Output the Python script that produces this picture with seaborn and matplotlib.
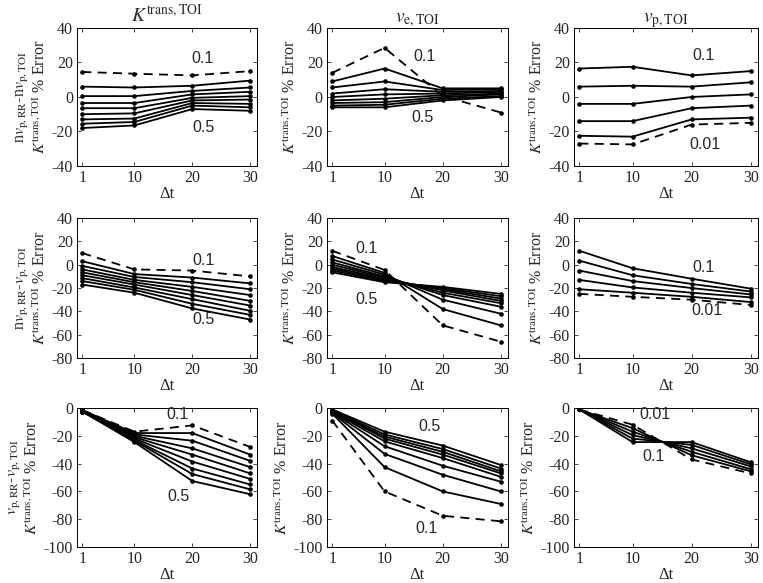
import numpy as np
import pandas as pd
import seaborn as sns
import matplotlib.pyplot as plt

dt = [1, 10, 20, 30]

# row 1: nv_p,RR - nv_p,TOI
r1_ktrans_dash = [14.5, 13.5, 12.5, 15]
r1_ktrans = [[6, 5.5, 6.5, 9.5], [0.5, 0.5, 3.5, 5.5], [-3.5, -3.5, 1.5, 3],
             [-6.5, -6.5, -0.5, 0.5], [-10, -9.5, -2, -1.5], [-13, -12.5, -3.5, -4],
             [-15.5, -14.5, -5, -6], [-18, -16.5, -7, -8]]
r1_ve_dash = [14, 28.5, 0.5, -9]
r1_ve = [[9, 16.5, 5, 5], [5.5, 9, 4, 4.5], [2, 4.5, 3, 3.5], [0, 1.5, 2, 3],
         [-2, -1, 1, 2], [-3.5, -3, 0, 1.5], [-5, -4.5, -1, 0.5], [-6, -6, -2, 0]]
r1_vp_dash = [-27, -27.5, -16, -15]
r1_vp = [[16.5, 17.5, 12.5, 15], [6, 6.5, 6, 8.5], [-4, -4, 0, 1.5],
         [-14, -14, -6.5, -5], [-22.5, -23, -13, -12]]

# row 2: nv_p,RR - v_p,TOI
r2_ktrans_dash = [10, -4, -5, -10]
r2_ktrans = [[3, -8, -11, -16], [-1, -10.5, -15, -21], [-4, -13, -19, -26],
             [-6.5, -15, -22.5, -31], [-9, -17, -26, -35], [-11.5, -19.5, -29.5, -39.5],
             [-14, -21.5, -33.5, -43], [-17, -24, -37.5, -47]]
r2_ve_dash = [12, -4.5, -52, -66]
r2_ve = [[7.5, -7, -38, -52], [4.5, -8.5, -30, -42], [2, -10, -26, -36],
         [0, -11, -24, -33], [-2, -12, -22, -31], [-3.5, -13, -21, -29],
         [-5, -14, -20, -27], [-6.5, -15, -19, -25]]
r2_vp_dash = [-25, -27.5, -30, -34.5]
r2_vp = [[12, -3, -12, -20.5], [3.5, -9, -16.5, -23], [-5, -14, -20, -25.5],
         [-13, -19.5, -24, -28], [-21, -24, -27.5, -32]]

# row 3: v_p,RR - v_p,TOI
r3_ktrans_dash = [-1.5, -17, -12.5, -28]
r3_ktrans = [[-1.5, -18, -18, -33.5], [-1.5, -19, -23.5, -38], [-2, -20, -29, -42.5],
             [-2, -21, -33.5, -47], [-2, -22, -38.5, -51], [-2.5, -23, -43.5, -55],
             [-2.5, -23.5, -47.5, -58.5], [-2.5, -24.5, -52.5, -62]]
r3_ve_dash = [-9, -60, -77.5, -81.5]
r3_ve = [[-4, -42.5, -60, -69], [-3.5, -33, -48, -60], [-3, -27.5, -41.5, -53],
         [-2.5, -24, -36, -49.5], [-2, -22, -33.5, -47], [-2, -20.5, -31.5, -45.5],
         [-1.5, -19, -29.5, -43.5], [-1, -17, -27, -41]]
r3_vp_dash = [-1, -12, -37, -47]
r3_vp = [[-1, -14.5, -34, -45.5], [-1, -17, -31.5, -44], [-1, -19.5, -29, -42],
         [-1, -22, -26.5, -40.5], [-1, -24.5, -24.5, -39]]

col_titles = [r'$K^{\mathrm{trans,TOI}}$', r'$v_{\mathrm{e,TOI}}$', r'$v_{\mathrm{p,TOI}}$']
row_labels = [r'n$v_{\mathrm{p,RR}}$-n$v_{\mathrm{p,TOI}}$',
              r'n$v_{\mathrm{p,RR}}$-$v_{\mathrm{p,TOI}}$',
              r'$v_{\mathrm{p,RR}}$-$v_{\mathrm{p,TOI}}$']
err_label = r'$K^{\mathrm{trans,TOI}}$ % Error'
row_yticks = [[-40, -20, 0, 20, 40], [-80, -60, -40, -20, 0, 20, 40],
              [-100, -80, -60, -40, -20, 0]]

# annotations (x, y, text) per panel
notes = [
    [[(21.8, 22.5, '0.1'), (21.9, -17.5, '0.5')],
     [(16.9, 23.5, '0.1'), (16.6, -12, '0.5')],
     [(22, 24, '0.1'), (22.2, -27.5, '0.01')]],
    [[(21.9, 3.5, '0.1'), (21.9, -47, '0.5')],
     [(6.9, 14, '0.1'), (6.9, -30, '0.5')],
     [(22, -2.5, '0.1'), (22.6, -39.5, '0.01')]],
    [[(17.4, -5, '0.1'), (17.6, -64, '0.5')],
     [(17.7, -13.5, '0.5'), (17.2, -87, '0.1')],
     [(13.8, -5, '0.01'), (13.5, -35, '0.1')]],
]

panels = [
    [(r1_ktrans_dash, r1_ktrans), (r1_ve_dash, r1_ve), (r1_vp_dash, r1_vp)],
    [(r2_ktrans_dash, r2_ktrans), (r2_ve_dash, r2_ve), (r2_vp_dash, r2_vp)],
    [(r3_ktrans_dash, r3_ktrans), (r3_ve_dash, r3_ve), (r3_vp_dash, r3_vp)],
]

sns.set_style('ticks')
plt.rcParams['font.family'] = 'serif'
plt.rcParams['font.serif'] = ['Liberation Serif', 'DejaVu Serif']
plt.rcParams['mathtext.fontset'] = 'stix'
plt.rcParams['axes.unicode_minus'] = False

fig = plt.figure(figsize=(7.63, 5.83), dpi=100)

lefts = [0.101, 0.4286, 0.7523]
widths = [0.236, 0.237, 0.241]
bottoms = [0.7153, 0.3859, 0.0617]
heights = [0.2367, 0.240, 0.2384]

for r in range(3):
    for c in range(3):
        ax = fig.add_axes([lefts[c], bottoms[r], widths[c], heights[r]])
        dash, solids = panels[r][c]
        for s in solids:
            sns.lineplot(x=dt, y=s, ax=ax, color='k', lw=1.3, marker='o',
                         markersize=3.3, markeredgecolor='k', markeredgewidth=0)
        sns.lineplot(x=dt, y=dash, ax=ax, color='k', lw=1.3, linestyle=(0, (5, 3.5)),
                     marker='o', markersize=3.3, markeredgecolor='k', markeredgewidth=0)
        for x, y, t in notes[r][c]:
            ax.text(x, y, t, ha='center', va='center', fontsize=11.5,
                    family='Liberation Sans')
        ax.set_xlim(0.1, 31.2)
        yt = row_yticks[r]
        ax.set_ylim(yt[0], yt[-1])
        ax.set_xticks(dt)
        ax.set_yticks(yt)
        ax.tick_params(direction='in', top=True, right=True, length=3,
                       labelsize=11.5, width=0.6, pad=3)
        for sp in ax.spines.values():
            sp.set_linewidth(0.7)
            sp.set_color('k')
        ax.set_xlabel('Δt', fontsize=12, labelpad=0)
        if c == 0:
            ax.set_ylabel(row_labels[r] + '\n' + err_label, fontsize=11.5, labelpad=2)
        else:
            ax.set_ylabel(err_label, fontsize=11.5, labelpad=2)
        if r == 0:
            ax.set_title(col_titles[c], fontsize=14, pad=4)

fig.savefig('out.png', dpi=100)
